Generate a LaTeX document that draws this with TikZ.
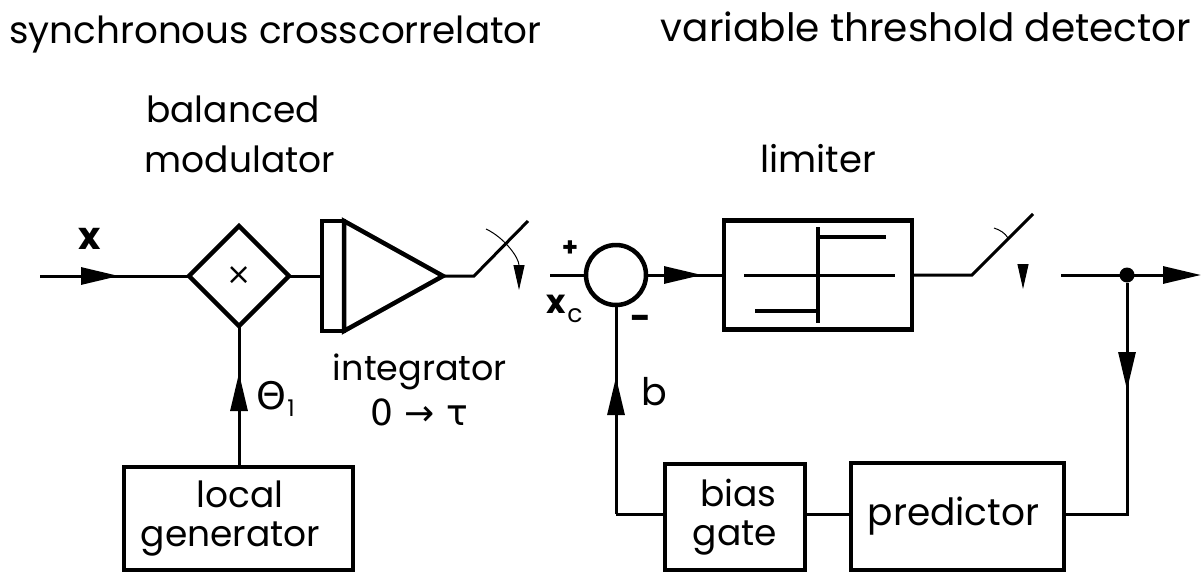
\documentclass[tikz,border=0pt]{standalone}
\usepackage{fontspec}
\setmainfont{Poppins}
\newfontfamily\symfont{DejaVu Sans}
\usetikzlibrary{shapes.geometric,arrows.meta}
\tikzset{
  lbl/.style={inner sep=0pt,anchor=base,font=\fontsize{36}{40}\selectfont},
  block/.style={draw,line width=4.5pt,inner sep=0pt,outer sep=0pt,align=center,font=\fontsize{36}{39}\selectfont},
  wire/.style={line width=3pt},
  wirefrom/.style={line width=3pt,shorten <=-12pt},
  head/.style={line width=3pt,-{Triangle[length=38pt,width=17pt]}},
  smallhead/.style={line width=1pt,-{Triangle[length=25pt,width=11pt]}}
}
\begin{document}
\begin{tikzpicture}[x=1pt,y=-1pt]
\useasboundingbox (0,0) rectangle (1201,573);

% titles
\node[lbl,font=\fontsize{37.3}{40}\selectfont] (title1) at (275.5,43) {synchronous crosscorrelator};
\node[lbl,font=\fontsize{39}{40}\selectfont] (title2) at (926,41) {variable threshold detector};
\node[lbl] (bal) at (233,122) {balanced};
\node[lbl] (modlab) at (240,172) {modulator};
\node[lbl,font=\fontsize{37}{40}\selectfont] (lim) at (818,172) {limiter};

% correlator
\node[draw,diamond,line width=4.5pt,minimum width=100pt,minimum height=100pt,inner sep=0pt,outer sep=0pt] (mod) at (239,276) {\symfont\fontsize{30}{30}\selectfont ×};
\node[draw,line width=4.5pt,minimum width=22pt,minimum height=110pt,inner sep=0pt,outer sep=0pt] (bar) at (333,276) {};
\node[draw,isosceles triangle,isosceles triangle stretches,line width=4.5pt,minimum width=110pt,minimum height=99pt,inner sep=0pt,outer sep=0pt,anchor=lower side] (int) at (344,276) {};
\node[block,minimum width=229pt,minimum height=103pt] (gen) at (238.5,518.5) {\hspace*{3pt}local\\generator\hspace*{16pt}};

% detector
\node[draw,circle,line width=4.5pt,minimum size=60pt,inner sep=0pt,outer sep=0pt] (sum) at (616,275) {};
\node[block,minimum width=188pt,minimum height=109pt] (limbox) at (818,275) {};
\node[block,minimum width=140pt,minimum height=106pt] (bias) at (735,517) {\hspace*{7pt}bias\\gate};
\node[block,minimum width=213pt,minimum height=107pt,font=\fontsize{37.5}{39}\selectfont] (pred) at (957.5,516.5) {predictor\hspace*{8pt}};
\node[fill,circle,minimum size=15pt,inner sep=0pt] (dot) at (1127,275) {};

\coordinate (xin) at (40,276);
\coordinate (xtip) at (119,276);
\coordinate (thtip) at (239,373);
\coordinate (sw1) at (474,276);
\coordinate (sw1end) at (528,221);
\coordinate (xcin) at (550,275);
\coordinate (limtip) at (702,275);
\coordinate (sw2) at (972,275);
\coordinate (sw2end) at (1033,214);
\coordinate (out) at (1061,275);
\coordinate (outtip) at (1201,275);
\coordinate (downtip) at (1127,390);
\coordinate (corner) at (1127,514);
\coordinate (bcorner) at (616,514);
\coordinate (btip) at (616,377);

% wires
\draw[head] (xin) -- (xtip);
\draw[wirefrom] (xtip) -- (mod.west);
\draw[wire] (mod.east) -- (bar.west);
\draw[wire] (int.apex) -- (sw1) -- (sw1end);
\draw[head] (gen.north -| thtip) -- (thtip);
\draw[wirefrom] (thtip) -- (mod.south);
\draw[wire] (xcin) -- (sum.west);
\draw[head] (sum.east) -- (limtip);
\draw[wirefrom] (limtip) -- (limbox.west);
\draw[wire] (limbox.east) -- (sw2) -- (sw2end);
\draw[head] (out) -- (outtip);
\draw[head] (dot) -- (downtip);
\draw[wirefrom] (downtip) -- (corner) -- (pred.east |- corner);
\draw[wire] (pred.west |- corner) -- (bias.east |- corner);
\draw[wire] (bias.west |- corner) -- (bcorner);
\draw[head] (bcorner) -- (btip);
\draw[wirefrom] (btip) -- (sum.south);

% switch arrows
\draw[smallhead] (486,229) .. controls (505,238) and (519,258) .. (519,290);
\draw[line width=1pt] (994,228) .. controls (1000,230) and (1005,233) .. (1008,238);
\draw[smallhead] (1023,270) -- (1023,289);

% limiter characteristic
\draw[wire] (744,275) -- (895,275);
\draw[line width=3.5pt] (818,227) -- (818,323);
\draw[line width=4.5pt] (818,237) -- (886,237);
\draw[line width=4.5pt] (755,311) -- (818,311);

% labels
\node[lbl,font=\fontsize{38}{40}\selectfont\bfseries] (xlab) at (90,249) {x};
\node[lbl,font=\fontsize{26}{26}\selectfont\bfseries] (plus) at (570,256) {+};
\node[lbl,font=\fontsize{36}{36}\selectfont\bfseries] (minus) at (641,330) {-};
\node[lbl,font=\fontsize{33}{33}\selectfont\bfseries] (xc) at (556,313) {x};
\node[lbl,font=\fontsize{25}{25}\selectfont] (xcsub) at (575,322) {c};
\node[lbl,font=\symfont\fontsize{38}{38}\selectfont] (th) at (271,409) {Θ};
\node[lbl,font=\fontsize{23}{23}\selectfont] (thsub) at (291,416) {1};
\node[lbl,font=\fontsize{35}{40}\selectfont] (intlab) at (420,380) {integrator};
\node[lbl,font=\symfont\fontsize{36}{40}\selectfont] (intrange) at (419,425) {0 → τ};
\node[lbl,font=\fontsize{38}{40}\selectfont] (blab) at (654,405) {b};
\end{tikzpicture}
\end{document}
